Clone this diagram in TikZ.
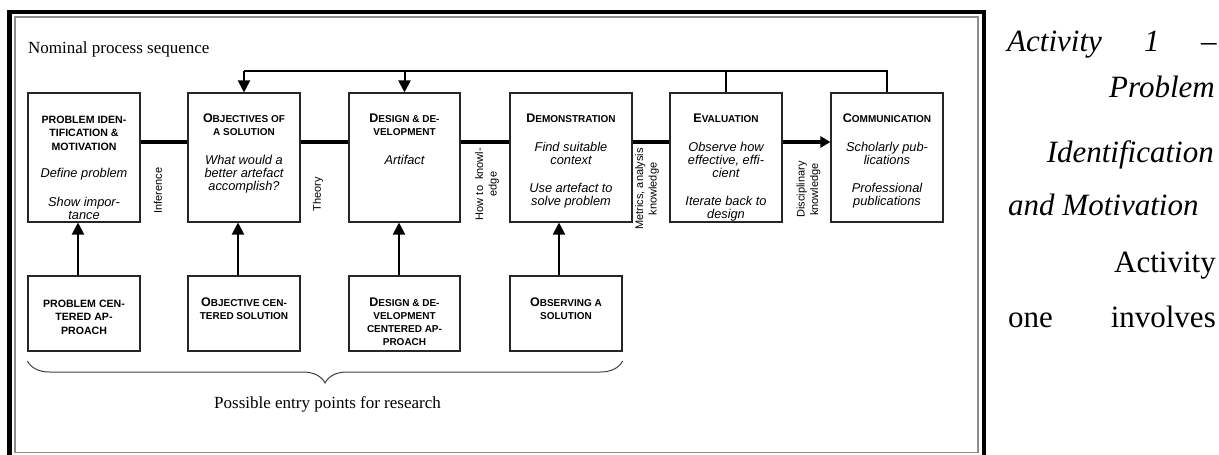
\documentclass[tikz,border=0pt]{standalone}
\usepackage{fontspec}
\setmainfont{Liberation Serif}
\newfontfamily\sfar{Liberation Sans}
\usetikzlibrary{arrows.meta,calc,decorations.pathreplacing}
\newcommand\BL[1]{{\fontsize{12.5}{13}\selectfont #1}}
\begin{document}
\begin{tikzpicture}[x=1pt,y=-1pt,
  box/.style={draw=black!85, line width=1.1pt, inner sep=0pt},
  ttl/.style={font=\sfar\bfseries\fontsize{10}{13}\selectfont, align=center, anchor=north, inner sep=0pt},
  ttlb/.style={font=\sfar\bfseries\fontsize{10.6}{13.3}\selectfont, align=center, anchor=north, inner sep=0pt},
  itx/.style={font=\sfar\itshape\fontsize{12.8}{13}\selectfont, align=center, anchor=north, inner sep=0pt},
  lab/.style={font=\sfar\fontsize{11}{13.5}\selectfont, align=center, rotate=90, inner sep=0pt},
  serif/.style={font=\fontsize{17}{20}\selectfont, inner sep=0pt},
  rt/.style={font=\fontsize{31}{36}\selectfont\itshape, inner sep=0pt},
  rtu/.style={font=\fontsize{31}{36}\selectfont, inner sep=0pt},
  flowline/.style={line width=4pt},
  fbline/.style={line width=2pt},
  uparrow/.style={line width=2pt, -{Triangle[width=12pt,length=12pt]}},
  flowarrow/.style={line width=4pt, -{Triangle[width=11pt,length=10pt]}}
]
\useasboundingbox (0,0) rectangle (1219,455);
% frame
\draw[line width=4.3pt] (9.5,475) -- (9.5,12) -- (984,12) -- (984,475);
\draw[black!45, line width=1.3pt] (15,17) rectangle (978,452.5);

\node[serif, anchor=base west] (nps) at (28,53) {Nominal process sequence};

% top row
\node[box, minimum width=112pt, minimum height=129pt] (b1) at (84,157.5) {};
\node[box, minimum width=112pt, minimum height=129pt] (b2) at (244,157.5) {};
\node[box, minimum width=111pt, minimum height=129pt] (b3) at (404.5,157.5) {};
\node[box, minimum width=122pt, minimum height=129pt] (b4) at (571,157.5) {};
\node[box, minimum width=112pt, minimum height=129pt] (b5) at (726,157.5) {};
\node[box, minimum width=112pt, minimum height=129pt] (b6) at (887,157.5) {};

\node[ttlb] (t1) at (84,116) {PROBLEM IDEN-\\TIFICATION \&\\MOTIVATION};
\node[itx] (i1a) at (84,168) {Define problem};
\node[itx] (i1b) at (84,197) {Show impor-\\tance};

\node[ttl] (t2) at (244,114) {\BL{O}BJECTIVES OF\\A SOLUTION};
\node[itx] (i2a) at (244,155) {What would a\\better artefact\\accomplish?};

\node[ttl] (t3) at (404.5,114) {\BL{D}ESIGN \& DE-\\VELOPMENT};
\node[itx] (i3a) at (404.5,155) {Artifact};

\node[ttl] (t4) at (571,114) {\BL{D}EMONSTRATION};
\node[itx] (i4a) at (571,142) {Find suitable\\context};
\node[itx] (i4b) at (571,183) {Use artefact to\\solve problem};

\node[ttl] (t5) at (726,114) {\BL{E}VALUATION};
\node[itx] (i5a) at (726,142) {Observe how\\effective, effi-\\cient};
\node[itx] (i5b) at (726,196) {Iterate back to\\design};

\node[ttl] (t6) at (887,114) {\BL{C}OMMUNICATION};
\node[itx] (i6a) at (887,142) {Scholarly pub-\\lications};
\node[itx] (i6b) at (887,183) {Professional\\publications};

% bottom row
\node[box, minimum width=112pt, minimum height=75pt] (pa) at (84,313.5) {};
\node[box, minimum width=112pt, minimum height=75pt] (pb) at (244,313.5) {};
\node[box, minimum width=111pt, minimum height=75pt] (pc) at (404.5,313.5) {};
\node[box, minimum width=112pt, minimum height=75pt] (pd) at (566,313.5) {};

\node[ttlb] (ta) at (84,300) {PROBLEM CEN-\\TERED AP-\\PROACH};
\node[ttl] (tb) at (244,298) {\BL{O}BJECTIVE CEN-\\TERED SOLUTION};
\node[ttl] (tc) at (404.5,298) {\BL{D}ESIGN \& DE-\\VELOPMENT\\CENTERED AP-\\PROACH};
\node[ttl] (td) at (566,298) {\BL{O}BSERVING A\\SOLUTION};

% flow line
\coordinate (flow) at (0,142);
\draw[flowline] (b1.east |- flow) -- (b2.west |- flow);
\draw[flowline] (b2.east |- flow) -- (b3.west |- flow);
\draw[flowline] (b3.east |- flow) -- (b4.west |- flow);
\draw[flowline] (b4.east |- flow) -- (b5.west |- flow);
\draw[flowarrow] (b5.east |- flow) -- (b6.west |- flow);

% labels between boxes
\node[lab] (l1) at (158,190.5) {Inference};
\node[lab] (l2) at (318,194.5) {Theory};
\node[lab] (l3) at (487,184) {How to\ \ knowl-\\edge};
\node[lab] (l4) at (647,189) {Metrics, analysis\\knowledge};
\node[lab] (l5) at (808.5,189.5) {Disciplinary\\knowledge};

% feedback
\coordinate (fb) at (0,71);
\draw[fbline] (b6.north) -- (b6.north |- fb) -- (b2.north |- fb);
\draw[fbline] (b5.north) -- (b5.north |- fb);
\draw[uparrow] (b2.north |- fb) -- (b2.north);
\draw[uparrow] (b3.north |- fb) -- (b3.north);

% entry arrows
\draw[uparrow] (pa.north -| 78,0) -- (b1.south -| 78,0);
\draw[uparrow] (pb.north -| 238,0) -- (b2.south -| 238,0);
\draw[uparrow] (pc.north -| 399,0) -- (b3.south -| 399,0);
\draw[uparrow] (pd.north -| 559,0) -- (b4.south -| 559,0);

% brace
\draw[black!75, line width=1pt, decorate, decoration={brace, mirror, amplitude=22pt, aspect=0.5}]
  (pa.south west |- 0,361) -- (pd.south east |- 0,361);
\node[serif, anchor=base] (pep) at (327.5,408) {Possible entry points for research};

% right text
\node[rt, anchor=base west] (r1) at (1007,51) {Activity};
\node[rt, anchor=base west] (r2) at (1144,51) {1};
\node[rt, anchor=base west] (r3) at (1201,51) {–};
\node[rt, anchor=base east] (r4) at (1215,97) {Problem};
\node[rt, anchor=base east] (r5) at (1214,162) {Identification};
\node[rt, anchor=base west] (r6) at (1008,215) {and Motivation};
\node[rtu, anchor=base east] (r7) at (1216,272) {Activity};
\node[rtu, anchor=base west] (r8) at (1008,327) {one};
\node[rtu, anchor=base east] (r9) at (1216,327) {involves};
\end{tikzpicture}
\end{document}
